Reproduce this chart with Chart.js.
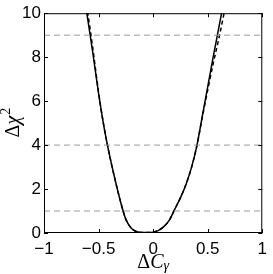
<!DOCTYPE html>
<html lang="en">
<head>
    <meta charset="UTF-8">
    <script src="https://cdn.jsdelivr.net/npm/chart.js"></script>
    <title>chi2</title>
    <style>
        html, body { margin: 0; padding: 0; background: #fff; }
        #wrap { width: 273px; height: 274px; }
    </style>
</head>
<body>
    <div id="wrap"><canvas id="grafico"></canvas></div>

<script>
    // valores
    var deltaC = [-0.62, -0.6, -0.55, -0.5, -0.45, -0.4, -0.35, -0.3, -0.25, -0.2, -0.15, -0.1, -0.05,
                  0, 0.05, 0.1, 0.15, 0.2, 0.25, 0.3, 0.35, 0.4, 0.45, 0.5, 0.55, 0.6, 0.65];
    var chi2Solid = [10.4, 9.75, 8.1, 6.35, 4.82, 3.55, 2.45, 1.45, 0.62, 0.22, 0.06, 0.02, 0.02,
                     0.04, 0.12, 0.3, 0.6, 1.1, 1.6, 2.2, 2.95, 3.95, 5.3, 6.65, 8.0, 9.3, 10.6];
    var chi2Dashed = [10.7, 10.05, 8.3, 6.4, 4.82, 3.55, 2.45, 1.45, 0.62, 0.22, 0.06, 0.02, 0.02,
                      0.04, 0.12, 0.3, 0.6, 1.1, 1.6, 2.2, 2.95, 3.95, 5.25, 6.5, 7.7, 8.8, 10.0];
    var niveis = [1, 4, 9];
    var xTicks = [-1, -0.5, 0, 0.5, 1];
    var yTicks = [0, 2, 4, 6, 8, 10];

    function pontos(ys) {
        return deltaC.map(function (x, i) { return { x: x, y: ys[i] }; });
    }

    function rotulo(v) {
        return String(v).replace('-', '\u2212');
    }

    var datasets = niveis.map(function (n) {
        return {
            data: [{ x: -1, y: n }, { x: 1, y: n }],
            borderColor: '#9a9a9a',
            borderWidth: 1,
            borderDash: [6, 4],
            pointRadius: 0
        };
    });
    datasets.push({
        data: pontos(chi2Dashed),
        borderColor: '#000',
        borderWidth: 1.5,
        borderDash: [4, 3],
        pointRadius: 0,
        cubicInterpolationMode: 'monotone'
    });
    datasets.push({
        data: pontos(chi2Solid),
        borderColor: '#000',
        borderWidth: 1.5,
        pointRadius: 0,
        cubicInterpolationMode: 'monotone'
    });

    // ticks para dentro, caixa e titulos dos eixos
    var moldura = {
        id: 'moldura',
        afterDraw: function (chart) {
            var ctx = chart.ctx;
            var a = chart.chartArea;
            var sx = chart.scales.x, sy = chart.scales.y;
            ctx.save();
            ctx.strokeStyle = '#000';
            ctx.lineWidth = 1;
            ctx.strokeRect(a.left + 0.5, a.top + 0.5, a.right - a.left - 1, a.bottom - a.top - 1);
            ctx.beginPath();
            xTicks.forEach(function (t) {
                var px = Math.round(sx.getPixelForValue(t)) + 0.5;
                ctx.moveTo(px, a.bottom); ctx.lineTo(px, a.bottom - 4);
                ctx.moveTo(px, a.top); ctx.lineTo(px, a.top + 4);
            });
            yTicks.forEach(function (t) {
                var py = Math.round(sy.getPixelForValue(t)) + 0.5;
                ctx.moveTo(a.left, py); ctx.lineTo(a.left + 4, py);
                ctx.moveTo(a.right, py); ctx.lineTo(a.right - 4, py);
            });
            ctx.stroke();

            ctx.fillStyle = '#000';
            ctx.textBaseline = 'alphabetic';
            ctx.textAlign = 'left';
            // eixo x: ΔC com subscrito γ
            var cx = (a.left + a.right) / 2;
            ctx.font = '20px "Liberation Serif"';
            var w1 = ctx.measureText('\u0394').width;
            ctx.font = 'italic 20px "Liberation Serif"';
            var w2 = ctx.measureText('C').width;
            ctx.font = 'italic 14px "Liberation Serif"';
            var w3 = ctx.measureText('\u03b3').width;
            var x0 = cx - (w1 + w2 + w3) / 2;
            var base = 268;
            ctx.font = '20px "Liberation Serif"';
            ctx.fillText('\u0394', x0, base);
            ctx.font = 'italic 20px "Liberation Serif"';
            ctx.fillText('C', x0 + w1, base);
            ctx.font = 'italic 14px "Liberation Serif"';
            ctx.fillText('\u03b3', x0 + w1 + w2, base + 2);

            // eixo y: Δχ²
            ctx.translate(19, (a.top + a.bottom) / 2);
            ctx.rotate(-Math.PI / 2);
            ctx.font = '20px "Liberation Serif"';
            var v1 = ctx.measureText('\u0394').width;
            ctx.font = 'italic 20px "Liberation Serif"';
            var v2 = ctx.measureText('\u03c7').width;
            ctx.font = '14px "Liberation Serif"';
            var v3 = ctx.measureText('2').width;
            var y0 = -(v1 + v2 + v3) / 2;
            ctx.font = '20px "Liberation Serif"';
            ctx.fillText('\u0394', y0, 0);
            ctx.font = 'italic 20px "Liberation Serif"';
            ctx.fillText('\u03c7', y0 + v1, 0);
            ctx.font = '14px "Liberation Serif"';
            ctx.fillText('2', y0 + v1 + v2 + 1, -9);
            ctx.restore();
        }
    };

    new Chart(document.getElementById('grafico'), {
        type: 'line',
        data: { datasets: datasets },
        options: {
            responsive: true,
            maintainAspectRatio: false,
            animation: false,
            events: [],
            layout: { padding: { top: 12, right: 8, left: 0, bottom: 0 } },
            plugins: { legend: { display: false }, tooltip: { enabled: false } },
            scales: {
                x: {
                    type: 'linear',
                    min: -1, max: 1,
                    afterBuildTicks: function (s) { s.ticks = xTicks.map(function (v) { return { value: v }; }); },
                    afterFit: function (s) { s.height = 41; },
                    grid: { display: false, drawTicks: false },
                    border: { display: false },
                    ticks: {
                        color: '#000', padding: 6,
                        font: { family: 'Liberation Sans', size: 17 },
                        maxRotation: 0,
                        callback: function (v) { return rotulo(v); }
                    }
                },
                y: {
                    type: 'linear',
                    min: 0, max: 10,
                    afterBuildTicks: function (s) { s.ticks = yTicks.map(function (v) { return { value: v }; }); },
                    afterFit: function (s) { s.width = 44; },
                    grid: { display: false, drawTicks: false },
                    border: { display: false },
                    ticks: {
                        color: '#000', padding: 3,
                        font: { family: 'Liberation Sans', size: 17 },
                        callback: function (v) { return rotulo(v); }
                    }
                }
            }
        },
        plugins: [moldura]
    });
</script>
</body>
</html>
